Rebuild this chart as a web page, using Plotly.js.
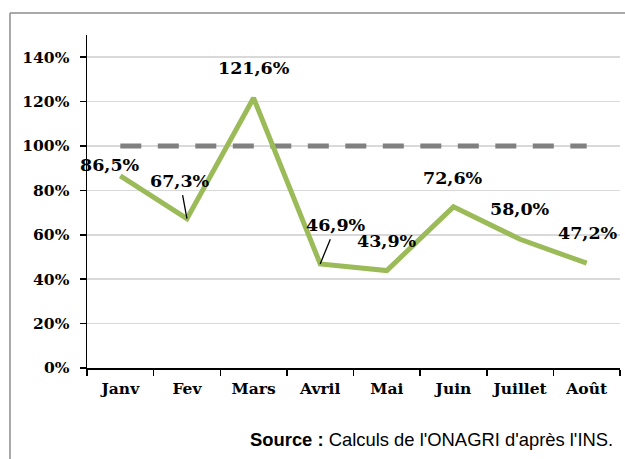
<!DOCTYPE html>
<html>
<head>
<meta charset="utf-8">
<script src="https://cdn.plot.ly/plotly-3.0.1.min.js"></script>
<style>html,body{margin:0;padding:0;background:#fff;}#chart{width:625px;height:459px;}</style>
</head>
<body>
<div id="chart"></div>
<script>
// ---- data ----
const months = ["Janv", "Fev", "Mars", "Avril", "Mai", "Juin", "Juillet", "Août"];
const values = [86.5, 67.3, 121.6, 46.9, 43.9, 72.6, 58.0, 47.2];
const target = [100, 100, 100, 100, 100, 100, 100, 100];
const yTickVals = [0, 20, 40, 60, 80, 100, 120, 140];
const yTickText = ["0%", "20%", "40%", "60%", "80%", "100%", "120%", "140%"];
const sourceText = "<b>Source :</b> Calculs de l'ONAGRI d'après l'INS.";

// ---- label placement (style) ----
const labelStyle = [
  {arrow:false, dx:-10, dy:11},
  {arrow:true,  ax:-7,  ay:-38},
  {arrow:false, dx:0,   dy:30},
  {arrow:true,  ax:16,  ay:-39},
  {arrow:false, dx:0,   dy:30},
  {arrow:false, dx:0,   dy:29},
  {arrow:false, dx:0,   dy:30},
  {arrow:false, dx:1,   dy:30}
];

const fmt = v => v.toFixed(1).replace('.', ',') + '%';
const serif = {family: "DejaVu Serif", size: 17.5, color: "#000", weight: "bold"};

const annotations = months.map((m, i) => {
  const s = labelStyle[i];
  const a = {x: m, y: values[i], xref: 'x', yref: 'y', text: fmt(values[i]), font: serif};
  if (s.arrow) {
    Object.assign(a, {showarrow: true, ax: s.ax, ay: s.ay, arrowhead: 0, arrowwidth: 1.3, arrowcolor: '#000', standoff: 0, startstandoff: 3});
  } else {
    Object.assign(a, {showarrow: false, xshift: s.dx, yshift: s.dy});
  }
  return a;
});

annotations.push({
  xref: 'paper', yref: 'paper', x: 0.9906, y: -0.216, xanchor: 'right', yanchor: 'middle',
  showarrow: false, text: sourceText,
  font: {family: "Liberation Sans, Arial", size: 18.4, color: "#000"}
});

const traces = [
  {x: months, y: target, type: 'scatter', mode: 'lines', hoverinfo: 'skip',
   line: {color: '#808080', width: 5, dash: '21px,16.5px'}},
  {x: months, y: values, type: 'scatter', mode: 'lines',
   line: {color: '#9bbb59', width: 5}}
];

const layout = {
  width: 625, height: 459,
  margin: {l: 87, r: 5, t: 35, b: 91, pad: 0},
  paper_bgcolor: '#fff', plot_bgcolor: '#fff',
  showlegend: false,
  xaxis: {
    type: 'category', range: [-0.5, 7.5], tickson: 'boundaries',
    ticks: 'outside', ticklen: 6, tickwidth: 1.5, tickcolor: '#000',
    showline: true, linecolor: '#000', linewidth: 1.5, showgrid: false, zeroline: false,
    ticklabelstandoff: 6, tickangle: 0, automargin: false,
    tickfont: {family: "DejaVu Serif", size: 15.5, color: '#000', weight: 'bold'}
  },
  yaxis: {
    range: [0, 150], tickvals: yTickVals, ticktext: yTickText,
    ticks: 'outside', ticklen: 6, tickwidth: 1.5, tickcolor: '#000',
    showline: true, linecolor: '#000', linewidth: 1.5,
    showgrid: true, gridcolor: '#d9d9d9', gridwidth: 1.5, zeroline: false,
    ticklabelstandoff: 7, automargin: false,
    tickfont: {family: "DejaVu Serif", size: 15.5, color: '#000', weight: 'bold'}
  },
  annotations: annotations,
  shapes: [
    {type: 'line', xref: 'paper', yref: 'paper', x0: -0.1445, x1: -0.1445, y0: 1.066, y1: -0.3, line: {color: '#8c8c8c', width: 1.5}},
    {type: 'line', xref: 'paper', yref: 'paper', x0: -0.1445, x1: 1.05, y0: 1.066, y1: 1.066, line: {color: '#8c8c8c', width: 1.5}}
  ]
};

Plotly.newPlot('chart', traces, layout, {staticPlot: true, displayModeBar: false});
</script>
</body>
</html>
